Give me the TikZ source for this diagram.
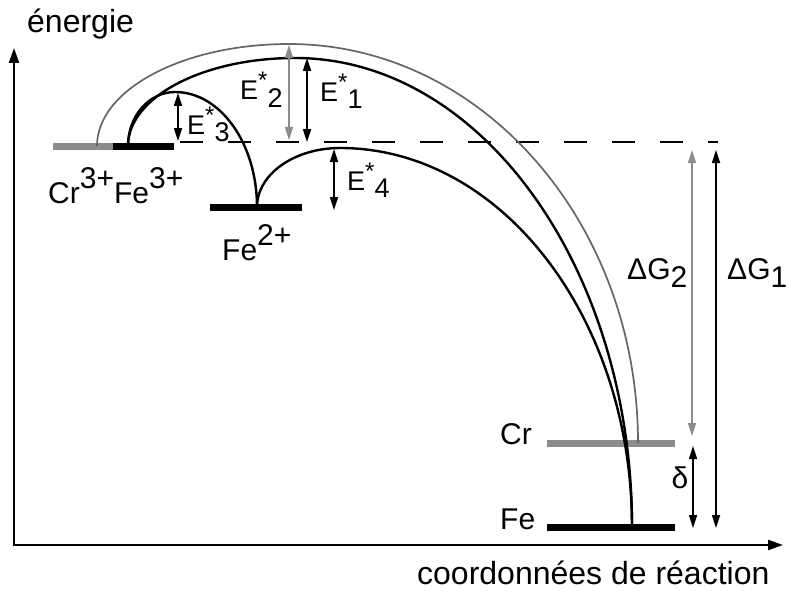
\documentclass[tikz,border=0pt]{standalone}
\usepackage{fontspec}
\setmainfont{Liberation Sans}
\usetikzlibrary{arrows.meta}
\newcommand{\fsz}[1]{\fontsize{#1}{#1}\selectfont}
\newcommand{\chg}[1]{\raisebox{15pt}{#1}}
\newcommand{\estar}[1]{E\raisebox{11pt}{\fsz{24}*}\raisebox{-7pt}{#1}}
\newcommand{\dgee}[1]{ΔG\raisebox{-8pt}{#1}}
\tikzset{
  axis/.style={line width=2.2pt, {Triangle[length=15pt,width=10pt]}-{Triangle[length=15pt,width=10pt]}},
  lvl/.style={line width=7pt},
  lvlcr/.style={line width=7pt, black!45},
  curve/.style={line width=2.4pt},
  curvecr/.style={line width=1.7pt, black!60},
  gap/.style={{Triangle[length=13pt,width=8pt]}-{Triangle[length=13pt,width=8pt]}, line width=1.7pt},
  gapcr/.style={gap, black!45},
  lbl/.style={anchor=base west, inner sep=0pt, font=\fsz{30}},
  elbl/.style={anchor=base west, inner sep=0pt, font=\fsz{27}}
}
\begin{document}
\begin{tikzpicture}[x=1pt,y=-1pt]
  \useasboundingbox (0,0) rectangle (789,591);
  % axes
  \coordinate (o) at (14,545);
  \coordinate (etop) at (14,48);
  \coordinate (xend) at (783,545);
  \draw[axis] (etop) -- (o) -- (xend);
  \node[lbl, font=\fsz{32}] (en) at (27,33) {énergie};
  \node[lbl, font=\fsz{32}] (rc) at (417,584) {coordonnées de réaction};
  % niveaux
  \coordinate (cr3) at (97,146);
  \coordinate (fe3) at (128,146);
  \coordinate (fe2) at (257,207);
  \coordinate (cr0) at (638,443);
  \coordinate (fe0) at (632,527);
  \draw[lvlcr] (53,146) -- (113,146);
  \draw[lvl] (113,146) -- (174,146);
  \draw[lvl] (210,207) -- (302,207);
  \draw[lvlcr] (547,443) -- (675,443);
  \draw[lvl] (547,527) -- (675,527);
  \draw[line width=2pt, dash pattern=on 23pt off 25pt] (180,142) -- (718,142);
  % courbes
  \coordinate (pk3) at (175,92);
  \coordinate (pk2) at (289,44);
  \coordinate (pk1) at (295,58);
  \coordinate (pk4) at (340,148);
  \draw[curvecr] (cr3) .. controls (97,89.7) and (183,44) .. (pk2)
    .. controls (481.7,44) and (638,222.6) .. (cr0);
  \draw[curve] (fe3) .. controls (128,97.4) and (202.8,58) .. (pk1)
    .. controls (481.1,58) and (632,268) .. (fe0);
  \draw[curve] (fe3) .. controls (128,116.2) and (149,92) .. (pk3)
    .. controls (220.3,92) and (257,143.5) .. (fe2);
  \draw[curve] (fe2) .. controls (257,174.4) and (294.2,148) .. (pk4)
    .. controls (501.3,148) and (632,317.7) .. (fe0);
  % ecarts
  \draw[gap] (178,93) coordinate (a3) -- (178,141) coordinate (b3);
  \draw[gapcr] (289,45) coordinate (a2) -- (289,140) coordinate (b2);
  \draw[gap] (307,58) coordinate (a1) -- (307,142) coordinate (b1);
  \draw[gap] (334,149) coordinate (a4) -- (334,210) coordinate (b4);
  \draw[gapcr] (692,150) coordinate (g2top) -- (692,436) coordinate (g2bot);
  \draw[gap] (716,150) coordinate (g1top) -- (716,528) coordinate (g1bot);
  \draw[gap] (693,446) coordinate (dtop) -- (693,528) coordinate (dbot);
  % etiquettes
  \node[lbl] (lcr3) at (48,203) {Cr\chg{3+}Fe\chg{3+}};
  \node[lbl] (lfe2) at (222,260) {Fe\chg{2+}};
  \node[lbl] (lcr) at (500,444) {Cr};
  \node[lbl] (lfe) at (500,529) {Fe};
  \node[lbl, anchor=center] (ld) at (680,478) {δ};
  \node[elbl] (le1) at (320,102) {\estar{1}};
  \node[elbl] (le2) at (240,100) {\estar{2}};
  \node[elbl] (le3) at (187,135) {\estar{3}};
  \node[elbl] (le4) at (347,190) {\estar{4}};
  \node[lbl] (lg2) at (627,279) {\dgee{2}};
  \node[lbl] (lg1) at (727,279) {\dgee{1}};
\end{tikzpicture}
\end{document}
